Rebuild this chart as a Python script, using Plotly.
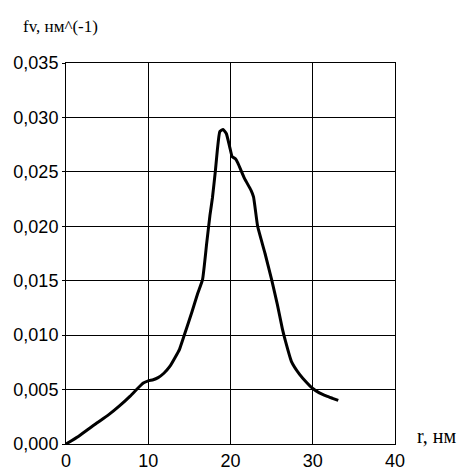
import plotly.graph_objects as go

r_nm = [0, 1.5, 3.7, 5.2, 6.5, 7.8, 8.7, 9.4, 10.0, 10.6, 11.2, 11.9, 12.6, 13.3, 13.8, 14.6, 15.3, 16.0, 16.6,
        17.1, 17.5, 17.8, 18.15, 18.4, 18.7, 19.1, 19.5, 19.9, 20.2, 20.6, 20.9, 21.7, 22.5, 22.8, 23.3, 24.2, 25.0,
        25.7, 26.3, 26.7, 27.4, 28.4, 29.2, 30.0, 30.8, 31.7, 32.4, 33.1]
fv = [0.0, 0.0007, 0.0019, 0.0027, 0.0035, 0.0044, 0.0051, 0.0056, 0.0058, 0.0059, 0.0061, 0.0065, 0.0071, 0.0080,
      0.0087, 0.0105, 0.0121, 0.0138, 0.0151, 0.0184, 0.0210, 0.0226, 0.0250, 0.0270, 0.0287, 0.0289, 0.0285,
      0.0273, 0.0264, 0.0262, 0.0258, 0.0244, 0.0233, 0.0227, 0.0200, 0.0175, 0.0151, 0.0128, 0.0106, 0.0094,
      0.0076, 0.0064, 0.0057, 0.0051, 0.0047, 0.0044, 0.0042, 0.0040]

x_ticks = [0, 10, 20, 30, 40]
y_ticks = [0.000, 0.005, 0.010, 0.015, 0.020, 0.025, 0.030, 0.035]

W, H = 465, 470
ML, MR, MT, MB = 66, 70, 63, 26
pw = W - ML - MR
ph = H - MT - MB


def px_to_paper(px, py):
    return (px - ML) / pw, (H - MB - py) / ph


fig = go.Figure()
fig.add_trace(go.Scatter(x=r_nm, y=fv, mode="lines",
                         line=dict(color="black", width=3, shape="spline", smoothing=0.4),
                         hoverinfo="skip"))

ax1 = px_to_paper(21, 26)
ax2 = px_to_paper(415, 436)

fig.update_layout(
    width=W, height=H,
    margin=dict(l=ML, r=MR, t=MT, b=MB, autoexpand=False),
    paper_bgcolor="white", plot_bgcolor="white",
    separators=",.",
    showlegend=False,
    font=dict(family="Liberation Sans, Arial", size=18, color="black"),
    xaxis=dict(range=[0, 40], tickvals=x_ticks, showgrid=True, gridcolor="black", gridwidth=1,
               showline=True, linecolor="black", linewidth=1, mirror=True, zeroline=False,
               ticks="", tickfont=dict(size=18), fixedrange=True, automargin=False),
    yaxis=dict(range=[0, 0.035], tickvals=y_ticks, tickformat=".3f", showgrid=True, gridcolor="black",
               gridwidth=1, showline=True, linecolor="black", linewidth=1, mirror=True, zeroline=False,
               ticks="outside", ticklen=3, tickcolor="black", tickfont=dict(size=18), fixedrange=True,
               automargin=False),
    annotations=[
        dict(text="fv, нм^(-1)", x=ax1[0], y=ax1[1], xref="paper", yref="paper", showarrow=False,
             xanchor="left", yanchor="middle",
             font=dict(family="Liberation Serif, Times New Roman", size=17, color="black")),
        dict(text="r, нм", x=ax2[0], y=ax2[1], xref="paper", yref="paper", showarrow=False,
             xanchor="left", yanchor="middle",
             font=dict(family="Liberation Serif, Times New Roman", size=20, color="black")),
    ],
)
fig.write_html("out.html", config={"displayModeBar": False},
               post_script="document.body.style.margin='0px';document.body.style.overflow='hidden';")
